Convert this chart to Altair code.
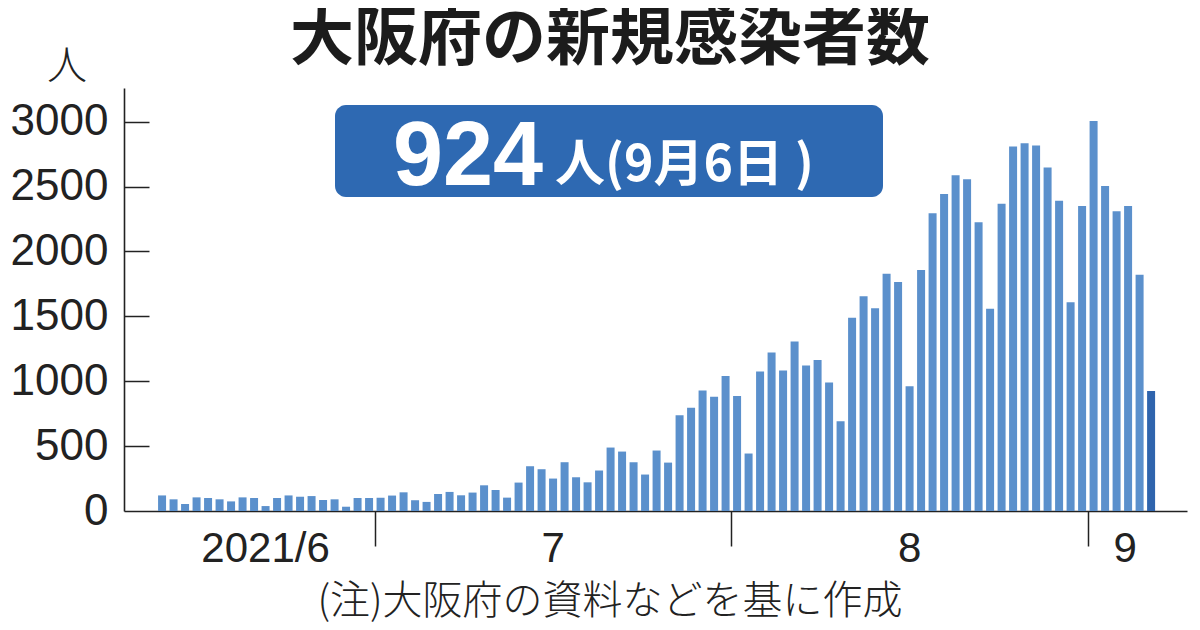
import altair as alt
import pandas as pd

# ---- data ----
june_days = list(range(12, 31))
june_values = [120, 90, 54, 105, 100, 90, 74, 105, 100, 38, 100, 120, 110, 115, 85, 90, 33, 100, 100]
july_values = [103, 119, 144, 83, 70, 131, 147, 121, 142, 198, 162, 103, 219, 345, 322, 250,
               376, 260, 221, 312, 489, 458, 376, 281, 466, 373, 738, 795, 929, 880, 1040]
aug_values = [887, 443, 1076, 1222, 1083, 1307, 1122, 1163, 991, 692, 1489, 1655, 1562, 1829,
              1765, 962, 1857, 2295, 2444, 2588, 2557, 2226, 1559, 2367, 2809, 2835, 2817,
              2647, 2392, 1608, 2351]
sep_values = [3005, 2505, 2310, 2350, 1820, 924]

y_ticks = [0, 500, 1000, 1500, 2000, 2500, 3000]
month_labels = ["2021/6", "7", "8", "9"]
month_label_dates = ["2021-06-21T12:00:00Z", "2021-07-16T12:00:00Z",
                     "2021-08-16T12:00:00Z", "2021-09-04T06:00:00Z"]

title_text = "大阪府の新規感染者数"
unit_text = "人"
callout_big = "924"
callout_small = "人(9月6日"
callout_close = ")"
note_text = "(注)大阪府の資料などを基に作成"

rows = []
for d, v in zip(june_days, june_values):
    rows.append((f"2021-06-{d:02d}T12:00:00Z", v))
for i, v in enumerate(july_values):
    rows.append((f"2021-07-{i+1:02d}T12:00:00Z", v))
for i, v in enumerate(aug_values):
    rows.append((f"2021-08-{i+1:02d}T12:00:00Z", v))
for i, v in enumerate(sep_values):
    rows.append((f"2021-09-{i+1:02d}T12:00:00Z", v))
df = pd.DataFrame(rows, columns=["date", "value"])
df["kind"] = "past"
df.loc[df.index[-1], "kind"] = "latest"

NUMFONT = "Liberation Sans"
JP = "Noto Sans CJK JP"
INK = "#222222"

W, H = 1063, 423

xscale = alt.Scale(
    type="utc",
    domain=[alt.DateTime(year=2021, month=6, date=9, hours=15, utc=True),
            alt.DateTime(year=2021, month=9, date=9, hours=4, minutes=30, utc=True)],
)
xaxis = alt.Axis(
    values=[alt.DateTime(year=2021, month=7, date=1, utc=True),
            alt.DateTime(year=2021, month=8, date=1, utc=True),
            alt.DateTime(year=2021, month=9, date=1, utc=True)],
    labels=False, tickSize=35, tickWidth=1.5, tickColor=INK,
    domainColor=INK, domainWidth=1.6, grid=False,
)
xenc = alt.X("date:T", scale=xscale, axis=xaxis, title=None)

yscale = alt.Scale(domain=[0, 3260], nice=False, zero=True)
yaxis = alt.Axis(
    values=y_ticks, format="d", ticks=False, labelPadding=16,
    labelFont=NUMFONT, labelFontSize=44, labelColor=INK,
    domainColor=INK, domainWidth=1.6, grid=False,
)
yenc = alt.Y("value:Q", scale=yscale, axis=yaxis, title=None)

# second left axis moved into the plot so its ticks point inward
yaxis_in = alt.Axis(
    orient="left", values=y_ticks[1:], offset=-25, tickSize=25, tickWidth=1.5,
    tickColor=INK, labels=False, domain=False, grid=False,
)
yenc_in = alt.Y("value:Q", scale=yscale, axis=yaxis_in, title=None)

bars = alt.Chart(df).mark_bar(size=8).encode(
    x=xenc,
    y=yenc,
    color=alt.Color("kind:N", scale=alt.Scale(domain=["past", "latest"],
                                              range=["#5b90cc", "#2f64ad"]), legend=None),
)

ytick_df = pd.DataFrame({"value": y_ticks})
inner_axis = alt.Chart(ytick_df).mark_point(opacity=0).encode(y=yenc_in)

lab_df = pd.DataFrame({"date": month_label_dates, "t": month_labels})
xlabels = alt.Chart(lab_df).mark_text(
    font=NUMFONT, fontSize=42, color=INK, align="center", baseline="alphabetic"
).encode(x=xenc, y=alt.value(474), text="t:N")

one = pd.DataFrame({"k": [0]})

title = alt.Chart(one).mark_text(
    font=JP, fontSize=64, fontWeight="bold", color="#1c1c1c", align="center", baseline="middle"
).encode(x=alt.value(486), y=alt.value(-48), text=alt.value(title_text))

unit = alt.Chart(one).mark_text(
    font=JP, fontSize=40, fontWeight=300, color=INK, align="center", baseline="middle"
).encode(x=alt.value(-57), y=alt.value(-21), text=alt.value(unit_text))

box = alt.Chart(one).mark_rect(color="#2e69b2", cornerRadius=11).encode(
    x=alt.value(211), x2=alt.value(759), y=alt.value(17), y2=alt.value(109)
)

big = alt.Chart(one).mark_text(
    font="Liberation Sans, Arial, Helvetica", fontSize=90, fontWeight="bold", color="white",
    align="left", baseline="alphabetic"
).encode(x=alt.value(269), y=alt.value(97), text=alt.value(callout_big))

small = alt.Chart(one).mark_text(
    font=JP, fontSize=50, fontWeight="bold", color="white", align="left", baseline="alphabetic"
).encode(x=alt.value(431), y=alt.value(93), text=alt.value(callout_small))

small_close = alt.Chart(one).mark_text(
    font=JP, fontSize=50, fontWeight="bold", color="white", align="right", baseline="alphabetic"
).encode(x=alt.value(690), y=alt.value(93), text=alt.value(callout_close))

note = alt.Chart(one).mark_text(
    font=JP, fontSize=40, fontWeight=300, color=INK, align="center", baseline="middle"
).encode(x=alt.value(486), y=alt.value(514), text=alt.value(note_text))

chart = alt.layer(
    bars, inner_axis, xlabels, box, big, small, small_close, title, unit, note
).resolve_axis(y="independent").properties(
    width=W, height=H,
    padding={"left": 116, "top": 80, "right": 5, "bottom": 111},
    autosize=alt.AutoSizeParams(type="none"),
).configure_view(stroke=None)

chart.save("out.html", embed_options={"renderer": "svg", "actions": False})
